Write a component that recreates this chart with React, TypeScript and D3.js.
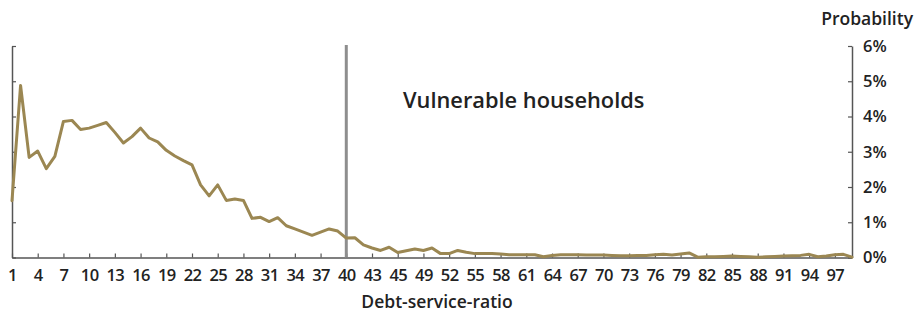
import React, { useEffect, useRef } from 'react';
import * as d3 from 'd3';

// Debt-service-ratio categories 1..99
const CATEGORIES: number[] = d3.range(1, 100);

// Probability (%) per category
const PROBABILITY: number[] = [
  1.61, 4.88, 2.84, 3.02, 2.52, 2.87, 3.86, 3.89, 3.63, 3.67,
  3.75, 3.83, 3.55, 3.25, 3.43, 3.67, 3.39, 3.28, 3.04, 2.88,
  2.75, 2.63, 2.06, 1.75, 2.06, 1.62, 1.66, 1.62, 1.11, 1.14,
  1.02, 1.13, 0.90, 0.81, 0.72, 0.63, 0.72, 0.81, 0.75, 0.55,
  0.56, 0.36, 0.27, 0.20, 0.29, 0.14, 0.19, 0.24, 0.20, 0.27,
  0.11, 0.11, 0.20, 0.15, 0.11, 0.11, 0.11, 0.10, 0.08, 0.08,
  0.08, 0.08, 0.02, 0.06, 0.08, 0.08, 0.08, 0.07, 0.07, 0.07,
  0.06, 0.05, 0.05, 0.06, 0.06, 0.08, 0.09, 0.07, 0.10, 0.13,
  0.01, 0.02, 0.02, 0.03, 0.04, 0.03, 0.02, 0.01, 0.02, 0.03,
  0.04, 0.05, 0.06, 0.09, 0.02, 0.04, 0.08, 0.09, 0.01,
];

// x tick positions and their printed labels (the chart prints "45" at 46)
const X_TICKS: number[] = [1, 4, 7, 10, 13, 16, 19, 22, 25, 28, 31, 34, 37, 40, 43, 46, 49, 52, 55, 58, 61, 64, 67, 70, 73, 76, 79, 82, 85, 88, 91, 94, 97];
const X_LABELS: string[] = ['1', '4', '7', '10', '13', '16', '19', '22', '25', '28', '31', '34', '37', '40', '43', '45', '49', '52', '55', '58', '61', '64', '67', '70', '73', '76', '79', '82', '85', '88', '91', '94', '97'];
const Y_TICKS: number[] = [0, 1, 2, 3, 4, 5, 6];
const THRESHOLD = 40;

const FONT = '"Open Sans", Roboto, sans-serif';
const LINE_COLOR = '#9b8752';
const AXIS_COLOR = '#555';
const TEXT_COLOR = '#222';

export default function App() {
  const svgRef = useRef<SVGSVGElement>(null);

  useEffect(() => {
    const width = 920;
    const height = 313;
    const left = 12, right = 852, top = 46, bottom = 257.5;

    const svg = d3.select(svgRef.current);
    svg.selectAll('*').remove();
    svg.attr('width', width).attr('height', height).attr('viewBox', `0 0 ${width} ${height}`);

    const x = d3.scaleLinear().domain([1, 99]).range([left, right]);
    const y = d3.scaleLinear().domain([0, 6]).range([bottom, top]);

    // Left axis: ticks only
    const gl = svg.append('g').attr('transform', `translate(${left},0)`)
      .call(d3.axisLeft(y).tickValues(Y_TICKS).tickSizeInner(-4).tickSizeOuter(0).tickFormat(() => ''));
    gl.select('.domain').attr('stroke', AXIS_COLOR).attr('stroke-width', 1.5);
    gl.selectAll('.tick line').attr('stroke', AXIS_COLOR).attr('stroke-width', 1.2);

    // Right axis with percentage labels
    const gr = svg.append('g').attr('transform', `translate(${right},0)`)
      .call(d3.axisRight(y).tickValues(Y_TICKS).tickSizeInner(-4).tickSizeOuter(0).tickPadding(11).tickFormat(d => `${d}%`));
    gr.select('.domain').attr('stroke', AXIS_COLOR).attr('stroke-width', 1.5);
    gr.selectAll('.tick line').attr('stroke', AXIS_COLOR).attr('stroke-width', 1.2);
    gr.selectAll('.tick text').style('font-family', FONT).style('font-size', '16.5px')
      .style('font-weight', 600).attr('fill', TEXT_COLOR);

    // Bottom axis
    const gb = svg.append('g').attr('transform', `translate(0,${bottom})`)
      .call(d3.axisBottom(x).tickValues(X_TICKS).tickSizeInner(-4).tickSizeOuter(0).tickPadding(12)
        .tickFormat((_, i) => X_LABELS[i]));
    gb.select('.domain').attr('stroke', AXIS_COLOR).attr('stroke-width', 1.5);
    gb.selectAll('.tick line').attr('stroke', AXIS_COLOR).attr('stroke-width', 1.2);
    gb.selectAll('.tick text').style('font-family', FONT).style('font-size', '16.5px')
      .style('font-weight', 600).attr('fill', TEXT_COLOR).attr('letter-spacing', '-0.6px');

    // Threshold line
    svg.append('line').attr('x1', x(THRESHOLD)).attr('x2', x(THRESHOLD))
      .attr('y1', top - 1).attr('y2', bottom).attr('stroke', '#8e8e8e').attr('stroke-width', 3);

    // Probability line
    const line = d3.line<number>().x((_, i) => x(CATEGORIES[i])).y(d => y(d));
    svg.append('path').datum(PROBABILITY).attr('d', line)
      .attr('fill', 'none').attr('stroke', LINE_COLOR).attr('stroke-width', 3)
      .attr('stroke-linejoin', 'round').attr('stroke-linecap', 'round');

    svg.append('text').attr('x', 403).attr('y', 107.5)
      .style('font-family', FONT).style('font-size', '21.8px').style('font-weight', 600)
      .attr('fill', TEXT_COLOR).text('Vulnerable households');

    svg.append('text').attr('x', 913).attr('y', 25).attr('text-anchor', 'end')
      .style('font-family', FONT).style('font-size', '17.5px').style('font-weight', 600)
      .attr('fill', TEXT_COLOR).text('Probability');

    svg.append('text').attr('x', 437).attr('y', 308).attr('text-anchor', 'middle')
      .style('font-family', FONT).style('font-size', '17.5px').style('font-weight', 600)
      .attr('fill', TEXT_COLOR).text('Debt-service-ratio');
  }, []);

  return (
    <div style={{ position: 'absolute', left: 0, top: 0, width: 920, height: 313, background: 'white' }}>
      <svg ref={svgRef} style={{ display: 'block' }}></svg>
    </div>
  );
}
